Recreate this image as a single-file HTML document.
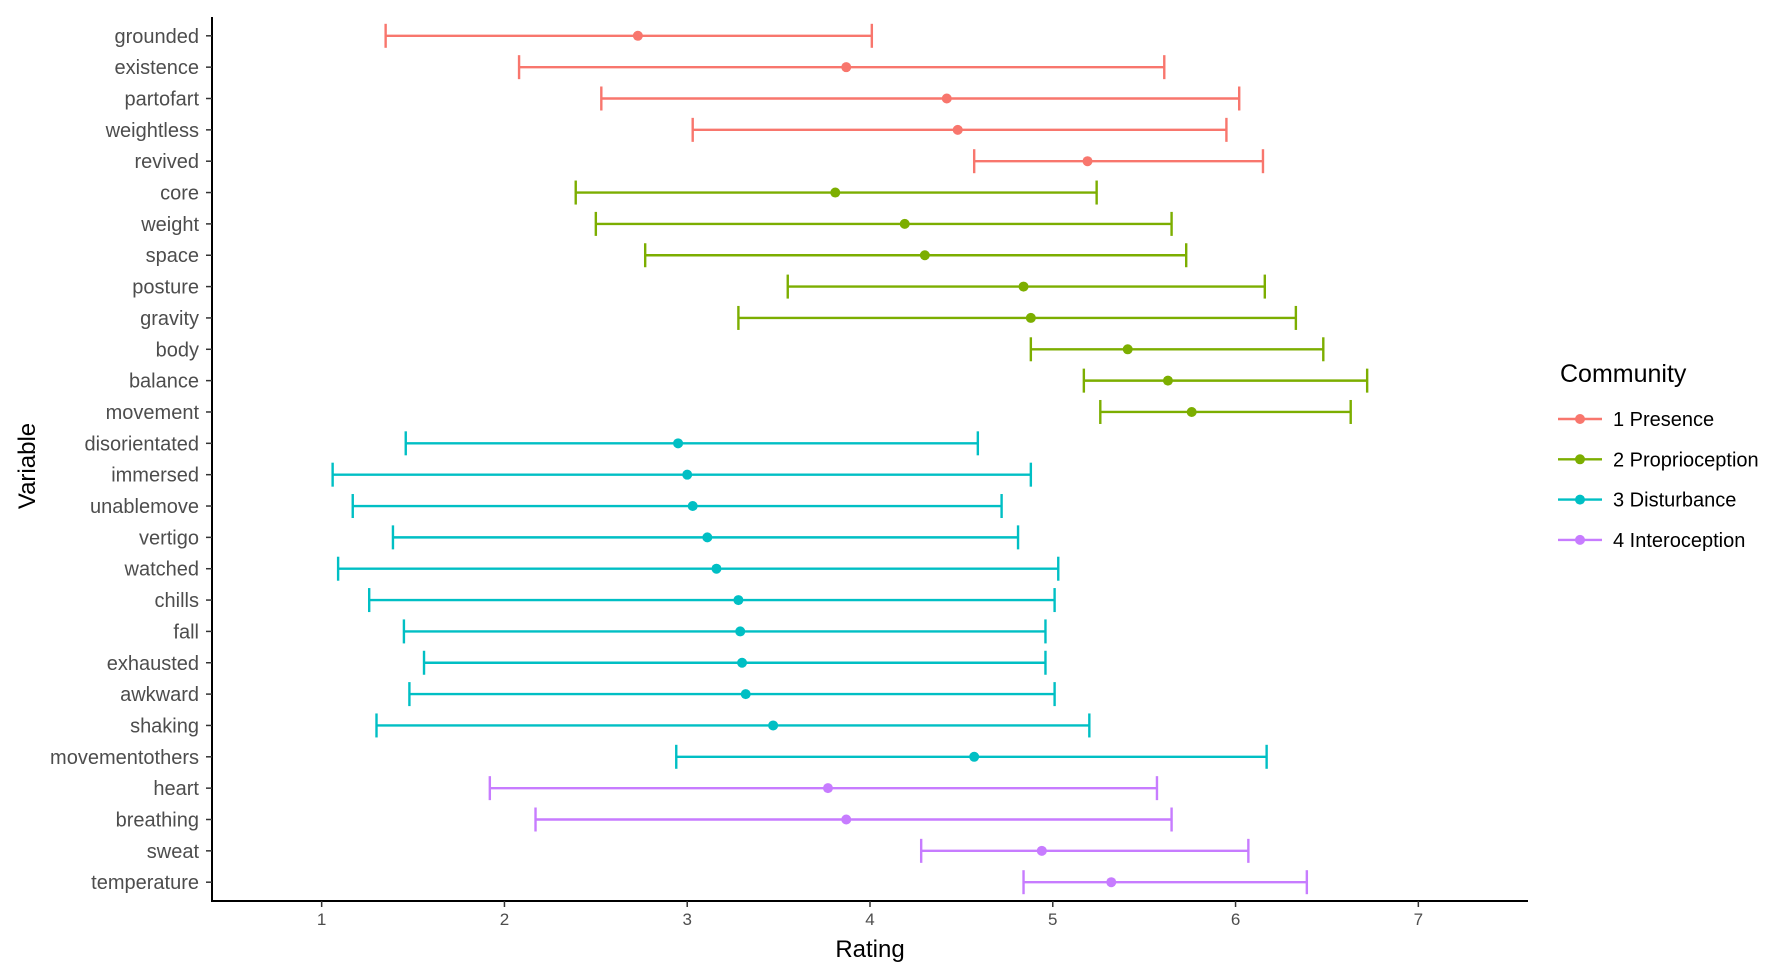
<!DOCTYPE html>
<html><head><meta charset="utf-8"><style>
body{margin:0;background:#fff}
svg{display:block;font-family:"Liberation Sans",sans-serif}
</style></head><body>
<svg id="chart" width="1772" height="967" xmlns="http://www.w3.org/2000/svg"></svg>
<script>
const variables=["grounded","existence","partofart","weightless","revived","core","weight","space","posture","gravity","body","balance","movement","disorientated","immersed","unablemove","vertigo","watched","chills","fall","exhausted","awkward","shaking","movementothers","heart","breathing","sweat","temperature"];
const community=[1,1,1,1,1,2,2,2,2,2,2,2,2,3,3,3,3,3,3,3,3,3,3,3,4,4,4,4];
const lows=[1.35,2.08,2.53,3.03,4.57,2.39,2.50,2.77,3.55,3.28,4.88,5.17,5.26,1.46,1.06,1.17,1.39,1.09,1.26,1.45,1.56,1.48,1.30,2.94,1.92,2.17,4.28,4.84];
const means=[2.73,3.87,4.42,4.48,5.19,3.81,4.19,4.30,4.84,4.88,5.41,5.63,5.76,2.95,3.00,3.03,3.11,3.16,3.28,3.29,3.30,3.32,3.47,4.57,3.77,3.87,4.94,5.32];
const highs=[4.01,5.61,6.02,5.95,6.15,5.24,5.65,5.73,6.16,6.33,6.48,6.72,6.63,4.59,4.88,4.72,4.81,5.03,5.01,4.96,4.96,5.01,5.20,6.17,5.57,5.65,6.07,6.39];
const xTicks=[1,2,3,4,5,6,7];
const groupNames=["1 Presence","2 Proprioception","3 Disturbance","4 Interoception"];
const colors=["#F8766D","#7CAE00","#00BFC4","#C77CFF"];

const NS="http://www.w3.org/2000/svg";
const svg=document.getElementById('chart');
const L=212,R=1528,T=17,B=901,xmin=0.4,xmax=7.6;
const n=variables.length;
const step=(B-T)/(n-1+1.2);
const x=v=>L+(v-xmin)/(xmax-xmin)*(R-L);
const y=i=>T+step*(0.6+i);
function mk(tag,at,parent){const e=document.createElementNS(NS,tag);for(const k in at)e.setAttribute(k,at[k]);(parent||svg).appendChild(e);return e;}

let ax=mk('line',{x1:L,y1:T,x2:L,y2:B,stroke:'#000','stroke-width':2});


ax=mk('line',{x1:L-1,y1:B,x2:R,y2:B,stroke:'#000','stroke-width':2});



xTicks.forEach(t=>{
  const tk=mk('line',{x1:x(t),y1:B,x2:x(t),y2:B+6,stroke:'#333','stroke-width':1.5});
  
  
  const tx=mk('text',{x:x(t),y:B+24,'text-anchor':'middle','font-size':17,fill:'#4d4d4d'});
  tx.textContent=t;
  
  
});

variables.forEach((v,i)=>{
  const yy=y(i);
  const tk=mk('line',{x1:L-6,y1:yy,x2:L,y2:yy,stroke:'#333','stroke-width':1.5});
  
  
  const tx=mk('text',{x:L-13,y:yy+7,'text-anchor':'end','font-size':20,fill:'#4d4d4d'});
  tx.textContent=v;
  
  
  const c=colors[community[i]-1];
  const g=mk('g',{stroke:c,'stroke-width':2.4,fill:c});
  
  
  mk('line',{x1:x(lows[i]),y1:yy,x2:x(highs[i]),y2:yy},g);
  mk('line',{x1:x(lows[i]),y1:yy-12,x2:x(lows[i]),y2:yy+12},g);
  mk('line',{x1:x(highs[i]),y1:yy-12,x2:x(highs[i]),y2:yy+12},g);
  const p=mk('circle',{cx:x(means[i]),cy:yy,r:5,stroke:'none'},g);
  
  
});

let t=mk('text',{x:870,y:957,'text-anchor':'middle','font-size':24,fill:'#000'});
t.textContent='Rating';


t=mk('text',{x:0,y:0,'text-anchor':'middle','font-size':24,fill:'#000',transform:'translate(35,466) rotate(-90)'});
t.textContent='Variable';



t=mk('text',{x:1560,y:382,'font-size':25,fill:'#000'});
t.textContent='Community';


groupNames.forEach((g,k)=>{
  const yy=419+k*40.3;
  const lg=mk('g',{});
  
  
  mk('line',{x1:1558,y1:yy,x2:1602,y2:yy,stroke:colors[k],'stroke-width':2.4},lg);
  mk('circle',{cx:1580,cy:yy,r:5,fill:colors[k]},lg);
  const tx=mk('text',{x:1613,y:yy+7,'font-size':20,fill:'#000'},lg);
  tx.textContent=g;
});
</script>
</body></html>
